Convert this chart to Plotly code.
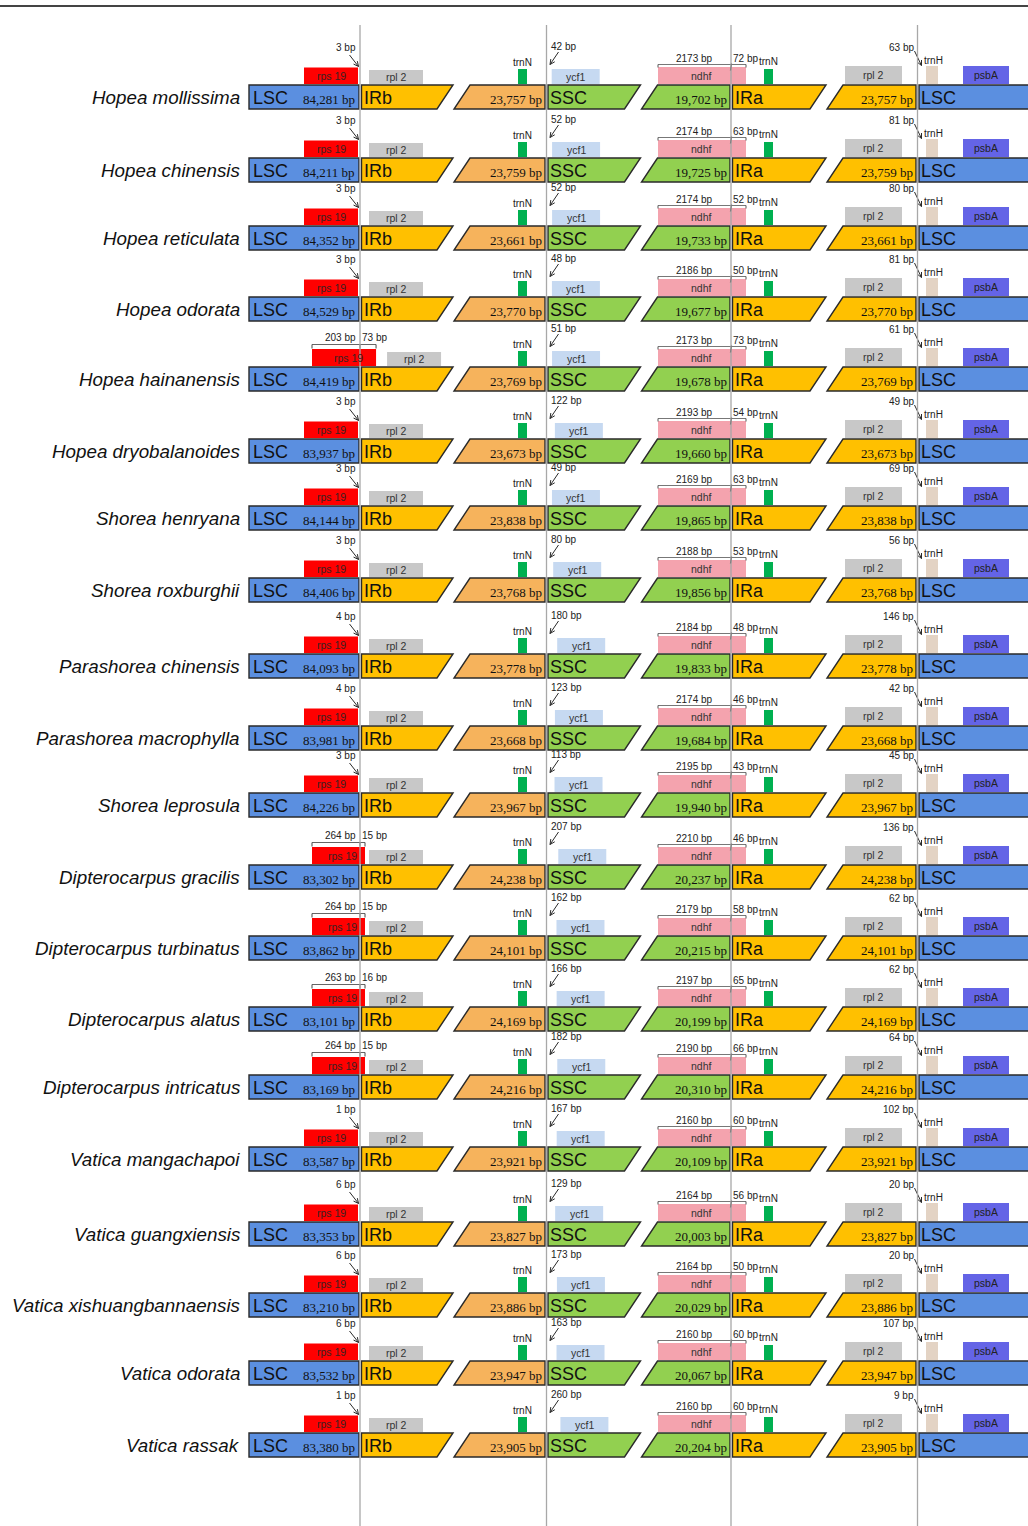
import math
import plotly.graph_objects as go

# ---------------------------------------------------------------- data
species = [
    "Hopea mollissima", "Hopea chinensis", "Hopea reticulata", "Hopea odorata",
    "Hopea hainanensis", "Hopea dryobalanoides", "Shorea henryana", "Shorea roxburghii",
    "Parashorea chinensis", "Parashorea macrophylla", "Shorea leprosula",
    "Dipterocarpus gracilis", "Dipterocarpus turbinatus", "Dipterocarpus alatus",
    "Dipterocarpus intricatus", "Vatica mangachapoi", "Vatica guangxiensis",
    "Vatica xishuangbannaensis", "Vatica odorata", "Vatica rassak",
]
lsc_bp = [84281, 84211, 84352, 84529, 84419, 83937, 84144, 84406, 84093, 83981,
          84226, 83302, 83862, 83101, 83169, 83587, 83353, 83210, 83532, 83380]
irb_bp = [23757, 23759, 23661, 23770, 23769, 23673, 23838, 23768, 23778, 23668,
          23967, 24238, 24101, 24169, 24216, 23921, 23827, 23886, 23947, 23905]
ssc_bp = [19702, 19725, 19733, 19677, 19678, 19660, 19865, 19856, 19833, 19684,
          19940, 20237, 20215, 20199, 20310, 20109, 20003, 20029, 20067, 20204]
ira_bp = irb_bp[:]

# rps19: distance to LSC/IRb junction (or part lying in LSC when it spans it)
rps19_lsc = [3, 3, 3, 3, 203, 3, 3, 3, 4, 4, 3, 264, 264, 263, 264, 1, 6, 6, 6, 1]
# rps19 part extending into IRb (None = gene ends inside LSC)
rps19_irb = [None, None, None, None, 73, None, None, None, None, None, None,
             15, 15, 16, 15, None, None, None, None, None]
# ycf1 distance from IRb/SSC junction
ycf1_gap = [42, 52, 52, 48, 51, 122, 49, 80, 180, 123, 113, 207, 162, 166, 182,
            167, 129, 173, 163, 260]
# ndhF: part in SSC / part in IRa
ndhf_ssc = [2173, 2174, 2174, 2186, 2173, 2193, 2169, 2188, 2184, 2174, 2195, 2210,
            2179, 2197, 2190, 2160, 2164, 2164, 2160, 2160]
ndhf_ira = [72, 63, 52, 50, 73, 54, 63, 53, 48, 46, 43, 46, 58, 65, 66, 60, 56, 50, 60, 60]
# trnH distance from IRa/LSC junction
trnh_gap = [63, 81, 80, 81, 61, 49, 69, 56, 146, 42, 45, 136, 62, 62, 64, 102, 20, 20, 107, 9]

# ---------------------------------------------------------------- layout constants
W, H = 1028, 1526
row_y = [97, 170, 238, 309, 379, 451, 518, 590, 666, 738, 805, 877, 948, 1019,
         1087, 1159, 1234, 1305, 1373, 1445]
J1, J2, J3, J4 = 360, 546.5, 731, 917.5   # junction lines
BH = 12                                   # half height of region boxes
SLANT = 16

SANS = "Liberation Sans, Arial, sans-serif"
SERIF = "Liberation Serif, Times New Roman, serif"
OUT = "#2a2a2a"
C_LSC = "#5b8fe0"
C_IR = "#ffc000"
C_IR2 = "#f6b35c"
C_SSC = "#92d050"
C_RPS = "#ff0000"
C_RPL = "#c8c8c8"
C_TRNN = "#00b050"
C_YCF = "#c6d9f1"
C_NDH = "#f4a3ae"
C_TRNH = "#e3d3c4"
C_PSBA = "#6464e6"
C_VL = "#a8a8a8"

shapes, annots = [], []


def rect(x0, x1, y0, y1, fill, lw=0, lc=None):
    shapes.append(dict(type="rect", xref="x", yref="y", x0=x0, x1=x1, y0=y0, y1=y1,
                       fillcolor=fill, line=dict(width=lw, color=lc or fill)))


def poly(pts, fill, lw=1.4, lc=OUT):
    path = "M " + " L ".join(f"{x},{y}" for x, y in pts) + " Z"
    shapes.append(dict(type="path", xref="x", yref="y", path=path,
                       fillcolor=fill, line=dict(width=lw, color=lc)))


def seg(x0, y0, x1, y1, color="#555", w=1):
    shapes.append(dict(type="line", xref="x", yref="y", x0=x0, y0=y0, x1=x1, y1=y1,
                       line=dict(color=color, width=w)))


def text(x, y, s, size=10, xanchor="center", family=SANS, color="#222"):
    annots.append(dict(x=x, y=y, xref="x", yref="y", text=s, showarrow=False,
                       xanchor=xanchor, yanchor="middle", borderpad=0,
                       font=dict(size=size, family=family, color=color)))


def arrow(xt, yt, xh, yh, head=5.5, color="#2a2a2a"):
    """Thin pointer with an open V head at (xh, yh)."""
    seg(xt, yt, xh, yh, color, 1)
    ang = math.atan2(yt - yh, xt - xh)
    for d in (-0.45, 0.45):
        seg(xh, yh, xh + head * math.cos(ang + d), yh + head * math.sin(ang + d), color, 1)


def bp(v):
    return f"{v:,} bp"


for i, name in enumerate(species):
    c = row_y[i]
    t, b = c - BH, c + BH

    # species name
    text(241, c, f"<i>{name}</i>", size=18.8, xanchor="right", color="#111")

    # ---- region boxes
    poly([(249, t), (359, t), (359, b), (249, b)], C_LSC)
    poly([(J1 + 1.5, t), (J1 + 93, t), (J1 + 93 - SLANT, b), (J1 + 1.5, b)], C_IR)
    poly([(J1 + 93 + 17, t), (J2 - 1.5, t), (J2 - 1.5, b), (J1 + 93 + 17 - SLANT, b)], C_IR2)
    poly([(J2 + 1.5, t), (J2 + 94, t), (J2 + 94 - SLANT, b), (J2 + 1.5, b)], C_SSC)
    poly([(J2 + 94 + 17, t), (J3 - 1, t), (J3 - 1, b), (J2 + 94 + 17 - SLANT, b)], C_SSC)
    poly([(J3 + 1.5, t), (J3 + 95, t), (J3 + 95 - SLANT, b), (J3 + 1.5, b)], C_IR)
    poly([(J3 + 95 + 17, t), (J4 - 1.5, t), (J4 - 1.5, b), (J3 + 95 + 17 - SLANT, b)], C_IR)
    poly([(J4 + 1.5, t), (W + 5, t), (W + 5, b), (J4 + 1.5, b)], C_LSC)

    text(252, c + 1, "LSC", size=18, xanchor="left", color="#111")
    text(356, c + 2, bp(lsc_bp[i]), size=13, xanchor="right", family=SERIF, color="#111")
    text(363, c + 1, "IRb", size=18, xanchor="left", color="#111")
    text(543, c + 2, bp(irb_bp[i]), size=13, xanchor="right", family=SERIF, color="#111")
    text(549, c + 1, "SSC", size=18, xanchor="left", color="#111")
    text(728, c + 2, bp(ssc_bp[i]), size=13, xanchor="right", family=SERIF, color="#111")
    text(734, c + 1, "IRa", size=18, xanchor="left", color="#111")
    text(914, c + 2, bp(ira_bp[i]), size=13, xanchor="right", family=SERIF, color="#111")
    text(920, c + 1, "LSC", size=18, xanchor="left", color="#111")

    gb = c - 13   # gene baseline (sits on the region box)

    # ---- rps19 / rpl2 near LSC / IRb
    if rps19_irb[i] is None:
        rx0, rx1 = 304, 358
        rect(rx0, rx1, c - 29.5, gb, C_RPS)
        text(331, c - 21, "rps 19", size=10.5, color="#3a2020")
        text(357, c - 50, f"{rps19_lsc[i]} bp", size=10, xanchor="right")
        arrow(349.5, c - 42, 358.5, c - 30.5)
    else:
        rx0, rx1 = 312, J1 + max(5, 0.22 * rps19_irb[i])
        rect(rx0, rx1, c - 30, gb, C_RPS)
        text((rx0 + rx1) / 2 + 4, c - 21, "rps 19", size=10.5, color="#3a2020")
        ly = c - 34.5
        seg(rx0, ly, rx1, ly, "#666", 1)
        for xx in (rx0, J1, rx1):
            seg(xx, ly, xx, ly + 4, "#444", 1)
        text(J1 - 3, ly - 7.5, f"{rps19_lsc[i]} bp", size=10, xanchor="right")
        text(J1 + 1, ly - 7.5, f"{rps19_irb[i]} bp", size=10, xanchor="left")
    px0 = 369 if rx1 < 370 else rx1 + 11
    rect(px0, px0 + 54, c - 27, gb, C_RPL)
    text(px0 + 27, c - 20, "rpl 2", size=10.5, color="#333")

    # ---- trnN in IRb
    rect(518, 527, c - 28, gb, C_TRNN)
    text(522.5, c - 34.5, "trnN", size=10)

    # ---- ycf1 at IRb / SSC
    yx0 = 550 + 0.04 * ycf1_gap[i]
    rect(yx0, yx0 + 48, c - 28, gb, C_YCF)
    text(yx0 + 24, c - 20.5, "ycf1", size=10.5, color="#333")
    text(550, c - 51, f"{ycf1_gap[i]} bp", size=10, xanchor="left")
    arrow(558.5, c - 45, 550, c - 32.5)

    # ---- ndhF at SSC / IRa
    rect(658, 746, c - 30, gb, C_NDH)
    text(701, c - 21, "ndhf", size=10.5, color="#333")
    ly = c - 32.5
    seg(658, ly, 746, ly, "#777", 1)
    seg(658, ly, 658, ly + 3, "#555", 1)
    seg(746, ly, 746, ly + 3, "#555", 1)
    seg(J3 + 0.5, ly - 1, J3 - 0.5, ly + 6, "#333", 1.2)
    text(694.5, c - 38.5, f"{ndhf_ssc[i]} bp", size=10)
    text(732, c - 38.5, f"{ndhf_ira[i]} bp", size=10, xanchor="left")

    # ---- trnN in IRa
    rect(764, 773, c - 28, gb, C_TRNN)
    text(768.5, c - 35.5, "trnN", size=10)

    # ---- rpl2 in IRa
    rect(845, 902, c - 31, gb, C_RPL)
    text(873.5, c - 22, "rpl 2", size=10.5, color="#333")

    # ---- trnH / psbA at IRa / LSC
    rect(926, 938, c - 31, gb, C_TRNH)
    text(933, c - 36.5, "trnH", size=10)
    text(915, c - 50, f"{trnh_gap[i]} bp", size=10, xanchor="right")
    arrow(914.5, c - 46, 921.5, c - 31.5)
    rect(963, 1009, c - 31, gb, C_PSBA)
    text(986, c - 22, "psbA", size=10.5, color="#222")

# junction guide lines and top rule
for xj in (J1, J2, J3, J4):
    seg(xj, 25, xj, H, C_VL, 1.3)
seg(0, 6, W, 6, "#444", 2)

fig = go.Figure()
fig.update_layout(
    width=W, height=H,
    margin=dict(l=0, r=0, t=0, b=0),
    paper_bgcolor="white", plot_bgcolor="white",
    xaxis=dict(range=[0, W], visible=False, fixedrange=True),
    yaxis=dict(range=[H, 0], visible=False, fixedrange=True),
    shapes=shapes, annotations=annots, showlegend=False,
)
fig.write_html("out.html")
